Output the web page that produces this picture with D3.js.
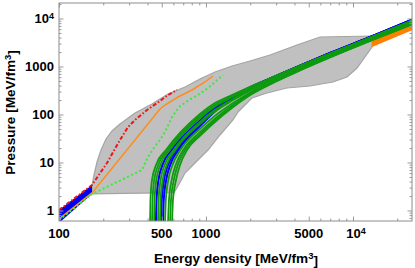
<!DOCTYPE html>
<html lang="en">
<head>
<meta charset="utf-8">
<title>Pressure vs energy density</title>
<script src="https://d3js.org/d3.v7.min.js"></script>
<style>
body { margin: 0; background: #fff; }
text { font-family: "Liberation Sans", Arial, sans-serif; font-weight: bold; fill: #000; }
</style>
</head>
<body>
<div id="chart"></div>
<script>
// ---- data (energy density eps [MeV/fm^3], pressure p [MeV/fm^3]) ----

// grey allowed region, upper and lower boundary
var greyUpper = [[167.7,3.24],[173,5.49],[181.4,10.24],[193.1,18.2],[208.8,30.9],[229.4,45.3],[260,63.4],
                 [329,107.5],[429,165.5],[551,267],[720,374],[910,549],[1151,768],[1503,1024],[1992,1302],
                 [2725,1736],[4159,2805],[5964,4118],[13470,4319]];
var greyLower = [[167.7,2.21],[606,2.35],[645,3.24],[720,6.04],[855,10.24],[1032,18.2],[1245,37.4],
                 [1526,76.8],[1651,112.7],[1842,157.7],[2056,220.7],[2600,280.5],[3556,356.6],[5099,392.5],
                 [7310,475.5],[9103,604.3],[10650,930.4],[13470,2548]];

// low density crust band
var crustTop = [[100,1.02],[167.7,3.4]];
var crustBottom = [[100,0.55],[167.7,2.21]];

// high density orange band
var pqcdTop = [[13470,3950],[25200,7900]];
var pqcdBottom = [[13470,2548],[25200,5700]];

// single EOS lines
var redLine = [[100,1.02],[167.7,3.4],[212.1,9.76],[260,29.4],[294.7,54.9],[328.9,76.8],[396.9,124.1],
               [486.5,191.1],[551.3,254.8],[635,323.9]];
var orangeLine = [[100,0.665],[167.7,2.32],[486.5,130.2],[526,157.7],[645,231.5],[803,323.9],[984.5,475.5],[1116,634]];
var greenDotted = [[100,0.63],[167.7,2.21],[367,6.98],[396.9,11.83],[436.1,19.1],[486.5,29.4],[526,43.2],
                   [587,88.7],[655,143.3],[766,200.5],[882,254.8],[1032,356.6],[1305,665]];

// quark-matter family: eps read at these pressures, pressure read at these energy densities
var pRows = [0.5, 1.65, 4.3, 8.9, 18.2];
var epsCols = [910, 1150, 1500, 1930, 2950, 4360, 6980, 13500, 25200];

var greenRows = [
  [416, 419, 429, 457, 534],
  [429, 433, 444, 473, 550],
  [443, 447, 459, 489, 567],
  [471, 476, 491, 523, 602],
  [486, 491, 508, 541, 620],
  [526, 533, 554, 592, 669],
  [551, 560, 584, 622, 700],
  [569, 578, 604, 643, 721],
  [587, 596, 625, 666, 743]
];
var greenCols = [
  [102.4, 173.6, 254.8, 359.9, 628, 1039, 1875, 4197, 9085],
  [93.2, 160.0, 240.9, 346.7, 613, 1018, 1842, 4133, 8929],
  [84.7, 147.3, 227.8, 333.8, 597, 997, 1809, 4068, 8776],
  [70.0, 125.1, 203.6, 309.8, 568, 956, 1746, 3943, 8478],
  [63.7, 115.2, 192.5, 298.2, 554, 937, 1715, 3883, 8333],
  [50.0, 93.4, 166.8, 271.0, 520, 889, 1640, 3732, 7974],
  [43.1, 82.2, 152.9, 255.7, 500, 860, 1595, 3643, 7762],
  [39.2, 75.8, 144.5, 246.2, 487, 843, 1567, 3586, 7629],
  [35.7, 69.8, 136.6, 237.1, 475, 825, 1540, 3531, 7499]
];
var blueRows = [
  [456, 461, 475, 506, 584],
  [494, 500, 518, 551, 630],
  [510, 516, 536, 571, 649]
];
var blueCols = [
  [74.6, 138.2, 232.0, 352.4, 621, 1044, 1912, 4307, 9404],
  [63.7, 126.2, 224.9, 346.7, 621, 1044, 1912, 4307, 9404],
  [57.3, 115.2, 218.0, 342.4, 621, 1044, 1912, 4307, 9404]
];

// ticks
var xLabelTicks = [100, 500, 1000, 5000, 10000];
var xMinorTicks = [200,300,400,600,700,800,900,2000,3000,4000,6000,7000,8000,9000,20000];
var yLabelTicks = [1, 10, 100, 1000, 10000];
var yMinorTicks = [0.7,0.8,0.9,2,3,4,5,6,7,8,9,20,30,40,50,60,70,80,90,
                   200,300,400,500,600,700,800,900,2000,3000,4000,5000,6000,7000,8000,9000,20000];

// ---- chart ----
var margin = {top: 3, right: 3, bottom: 47, left: 59},
    width = 415 - margin.left - margin.right,
    height = 268 - margin.top - margin.bottom;

var svg = d3.select("#chart").append("svg")
    .attr("width", width + margin.left + margin.right)
    .attr("height", height + margin.top + margin.bottom)
  .append("g")
    .attr("transform", "translate(" + margin.left + "," + margin.top + ")");

var x = d3.scaleLog().domain([100, 25200]).range([0, width]);
var y = d3.scaleLog().domain([0.604, 21030]).range([height, 0]);

svg.append("clipPath").attr("id", "clip")
  .append("rect").attr("width", width).attr("height", height);

var plot = svg.append("g").attr("clip-path", "url(#clip)");

var line = d3.line().x(function(d){ return x(d[0]); }).y(function(d){ return y(d[1]); });
var smooth = d3.line().curve(d3.curveMonotoneX)
    .x(function(d){ return x(d[0]); }).y(function(d){ return y(d[1]); });

function band(top, bottom) {
  return line(top.concat(bottom.slice().reverse())) + "Z";
}

// grey region
plot.append("path").attr("d", band(greyUpper, greyLower))
    .style("fill", "#c0c0c0").style("stroke", "#a4a4a4").style("stroke-width", 1.2);

// orange band at high density
plot.append("path").attr("d", band(pqcdTop, pqcdBottom)).style("fill", "#ff8000");

// blue crust band
plot.append("path").attr("d", band(crustTop, crustBottom)).style("fill", "#0000f0");

function curvePoints(rows, cols) {
  return rows.map(function(e, i){ return [e, pRows[i]]; })
    .concat(cols.map(function(p, i){ return [epsCols[i], p]; }));
}

// family of curves: blue underneath, green on top
for (var i = 0; i < blueRows.length; i++) {
  plot.append("path").attr("d", smooth(curvePoints(blueRows[i], blueCols[i])))
      .style("fill", "none").style("stroke", "#0000ff").style("stroke-width", 2);
}
for (var j = 0; j < greenRows.length; j++) {
  plot.append("path").attr("d", smooth(curvePoints(greenRows[j], greenCols[j])))
      .style("fill", "none").style("stroke", "#0f9a0f").style("stroke-width", 1.8);
}

// single lines
plot.append("path").attr("d", line(orangeLine))
    .style("fill", "none").style("stroke", "#ff8c1a").style("stroke-width", 1.5);
plot.append("path").attr("d", line(greenDotted))
    .style("fill", "none").style("stroke", "#3ee83e").style("stroke-width", 2)
    .style("stroke-dasharray", "2,2.5");
plot.append("path").attr("d", line(redLine))
    .style("fill", "none").style("stroke", "#f01414").style("stroke-width", 2)
    .style("stroke-dasharray", "4,2,1.5,2");

// ticks (inside, on all four sides)
function ticks(axis, values, size, tr) {
  var g = svg.append("g").attr("transform", tr)
      .call(axis.tickValues(values).tickSize(size).tickFormat(""));
  g.select(".domain").remove();
  g.selectAll("line").style("stroke", "#9a9a9a");
}
ticks(d3.axisBottom(x), xLabelTicks, -4.5, "translate(0," + height + ")");
ticks(d3.axisBottom(x), xMinorTicks, -2.5, "translate(0," + height + ")");
ticks(d3.axisTop(x), xLabelTicks, -4.5, "translate(0,0)");
ticks(d3.axisTop(x), xMinorTicks, -2.5, "translate(0,0)");
ticks(d3.axisLeft(y), yLabelTicks, -4.5, "translate(0,0)");
ticks(d3.axisLeft(y), yMinorTicks, -2.5, "translate(0,0)");
ticks(d3.axisRight(y), yLabelTicks, -4.5, "translate(" + width + ",0)");
ticks(d3.axisRight(y), yMinorTicks, -2.5, "translate(" + width + ",0)");

// frame
svg.append("rect").attr("width", width).attr("height", height)
    .style("fill", "none").style("stroke", "#8c8c8c").style("stroke-width", 1);

// tick labels
function label(t, v) {
  if (v === 10000) {
    t.text("10");
    t.append("tspan").text("4").attr("dy", "-0.45em").style("font-size", "9px");
  } else {
    t.text(v);
  }
}
xLabelTicks.forEach(function(v){
  var t = svg.append("text").attr("x", x(v) + (v === 10000 ? 3 : 0)).attr("y", height + 17)
      .attr("text-anchor", "middle").style("font-size", "13px");
  label(t, v);
});
yLabelTicks.forEach(function(v){
  var t = svg.append("text").attr("x", -5).attr("y", y(v)).attr("dy", "0.36em")
      .attr("text-anchor", "end").style("font-size", "13px");
  label(t, v);
});

// axis titles
var xt = svg.append("text").attr("x", 177).attr("y", 260)
    .attr("text-anchor", "middle").style("font-size", "13.6px").text("Energy density [MeV/fm");
xt.append("tspan").text("3").attr("dy", "-0.45em").style("font-size", "9.5px");
xt.append("tspan").text("]").attr("dy", "0.45em");

var yt = svg.append("text").attr("transform", "translate(-44," + 109.5 + ") rotate(-90)")
    .attr("text-anchor", "middle").style("font-size", "13.6px").text("Pressure [MeV/fm");
yt.append("tspan").text("3").attr("dy", "-0.45em").style("font-size", "9.5px");
yt.append("tspan").text("]").attr("dy", "0.45em");
</script>
</body>
</html>
